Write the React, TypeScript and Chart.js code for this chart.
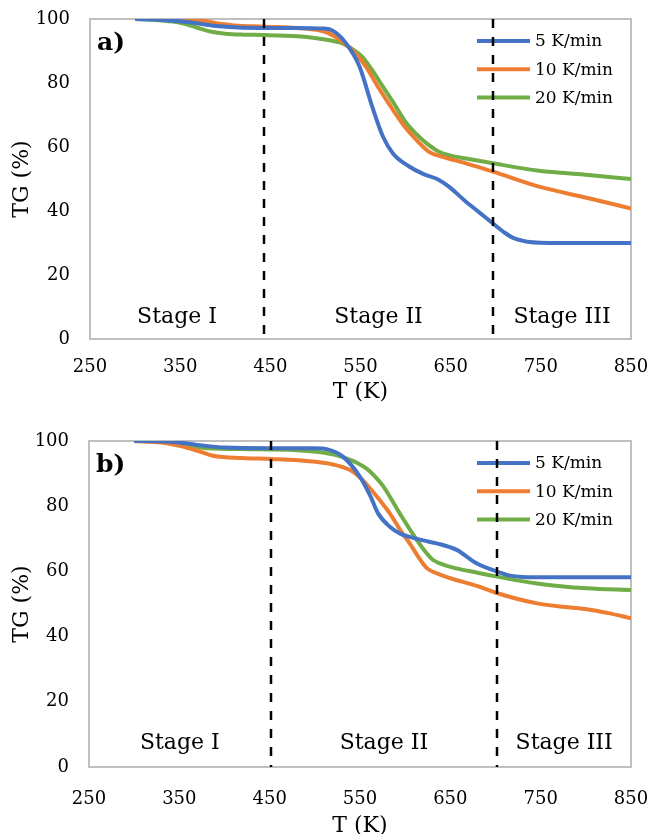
import React, { useEffect, useRef } from 'react';
import { Chart, registerables } from 'chart.js';
Chart.register(...registerables);

const SERIES_LABELS = ['5 K/min', '10 K/min', '20 K/min'];
const SERIES_COLORS = ['#4472C4', '#ED7D31', '#70AD47'];
const X_TICKS = [250, 350, 450, 550, 650, 750, 850];
const Y_TICKS = [0, 20, 40, 60, 80, 100];
const STAGE_NAMES = ['Stage I', 'Stage II', 'Stage III'];

// Panel a)
const aT5 = [300, 330, 360, 390, 420, 470, 510, 520, 534, 549, 563, 575, 586, 604, 620, 635, 648, 667, 682, 697, 710, 720, 735, 750, 800, 850];
const aTG5 = [100, 99.7, 99.0, 97.8, 97.3, 97.2, 97.0, 96.2, 92.4, 85.1, 72.6, 63.2, 58.0, 53.9, 51.5, 50.0, 47.6, 42.9, 39.5, 36.1, 33.2, 31.5, 30.4, 30.1, 30.0, 30.0];
const aT10 = [300, 340, 370, 390, 410, 443, 480, 501, 515, 530, 545, 556, 570, 586, 600, 612, 626, 640, 667, 697, 748, 803, 850];
const aTG10 = [100, 100, 99.7, 98.7, 98.0, 97.6, 97.2, 96.6, 95.5, 92.9, 89.0, 85.1, 78.5, 71.6, 66.0, 62.2, 58.5, 57.0, 54.9, 52.3, 47.6, 44.0, 40.8];
const aT20 = [300, 320, 342, 356, 370, 385, 400, 420, 442, 480, 501, 520, 530, 540, 552, 563, 575, 588, 601, 612, 623, 637, 650, 667, 697, 748, 803, 850];
const aTG20 = [100, 99.8, 99.2, 98.4, 97.2, 96.0, 95.4, 95.1, 95.0, 94.6, 94.0, 93.1, 92.4, 90.8, 88.2, 84.0, 78.8, 73.2, 67.4, 64.0, 61.2, 58.5, 57.3, 56.4, 54.9, 52.6, 51.25, 50.0];
const aStageBounds = [443, 697];

// Panel b)
const bT5 = [300, 340, 370, 400, 450, 500, 513, 531, 550, 561, 570, 583, 595, 605, 620, 635, 657, 679, 702, 716, 730, 760, 850];
const bTG5 = [100, 99.8, 98.8, 98.0, 97.8, 97.8, 97.5, 95.2, 89.0, 83.4, 77.8, 73.7, 71.5, 70.6, 69.5, 68.6, 66.6, 62.5, 59.9, 58.7, 58.3, 58.2, 58.2];
const bT10 = [300, 330, 350, 370, 388, 420, 452, 498, 520, 539, 550, 561, 572, 583, 595, 605, 615, 624, 636, 650, 680, 702, 746, 780, 801, 825, 850];
const bTG10 = [100, 99.5, 98.5, 97.0, 95.4, 94.8, 94.5, 93.7, 92.8, 91.1, 88.8, 85.5, 81.8, 77.8, 72.5, 68.6, 64.3, 61.0, 59.3, 57.9, 55.5, 53.3, 50.2, 49.0, 48.4, 47.2, 45.6];
const bT20 = [300, 330, 350, 380, 428, 480, 502, 520, 535, 546, 557, 567, 576, 594, 613, 624, 631, 640, 650, 680, 702, 746, 801, 850];
const bTG20 = [100, 99.9, 99.5, 97.8, 97.5, 97.2, 96.7, 95.9, 94.7, 93.4, 91.6, 89.0, 86.0, 77.8, 69.6, 65.5, 63.5, 62.3, 61.4, 59.6, 58.4, 56.3, 54.8, 54.3];
const bStageBounds = [451, 702];

const FONT = '"DejaVu Serif", serif';

const decorPlugin = {
  id: 'decor',
  beforeDatasetsDraw(chart: any) {
    const { ctx, chartArea: ca } = chart;
    ctx.save();
    ctx.strokeStyle = '#BFBFBF';
    ctx.lineWidth = 2;
    ctx.strokeRect(ca.left, ca.top, ca.right - ca.left, ca.bottom - ca.top);
    ctx.restore();
  },
  afterDatasetsDraw(chart: any) {
    const o = chart.options.plugins.decor;
    const { ctx, chartArea: ca } = chart;
    const x = chart.scales.x;
    const y = chart.scales.y;
    ctx.save();
    // legend
    ctx.font = '17px ' + FONT;
    ctx.textBaseline = 'middle';
    ctx.textAlign = 'left';
    chart.data.datasets.forEach((ds: any, i: number) => {
      const ly = ca.top + 22 + i * 28.3;
      const lx = ca.right - 154;
      ctx.strokeStyle = ds.borderColor;
      ctx.lineWidth = 4;
      ctx.beginPath();
      ctx.moveTo(lx, ly);
      ctx.lineTo(lx + 53, ly);
      ctx.stroke();
      ctx.fillStyle = '#000';
      ctx.fillText(ds.label, lx + 58, ly + 1);
    });
    // dashed stage boundaries
    ctx.strokeStyle = '#000';
    ctx.lineWidth = 2.5;
    ctx.setLineDash([9, 9]);
    for (const b of o.bounds) {
      const px = Math.round(x.getPixelForValue(b));
      ctx.beginPath();
      ctx.moveTo(px, ca.top);
      ctx.lineTo(px, ca.bottom);
      ctx.stroke();
    }
    ctx.setLineDash([]);
    // stage labels
    const edges = [x.min, ...o.bounds, x.max];
    ctx.font = '22px ' + FONT;
    ctx.fillStyle = '#000';
    ctx.textAlign = 'center';
    ctx.textBaseline = 'alphabetic';
    STAGE_NAMES.forEach((s, i) => {
      ctx.fillText(s, x.getPixelForValue((edges[i] + edges[i + 1]) / 2), y.getPixelForValue(o.stageY));
    });
    // panel tag
    ctx.font = 'bold 25px ' + FONT;
    ctx.textAlign = 'left';
    ctx.textBaseline = 'middle';
    ctx.fillText(o.tag, ca.left + 7, ca.top + 24);
    ctx.restore();
  },
};

type PanelProps = {
  tag: string;
  series: number[][][];
  bounds: number[];
  top: number;
  height: number;
  padTop: number;
  plotBottom: number;
  yAxisWidth: number;
  stageY: number;
  tickPad: number;
  titlePad: number;
};

function Panel(p: PanelProps) {
  const ref = useRef<HTMLCanvasElement | null>(null);
  useEffect(() => {
    if (!ref.current) return;
    const chart = new Chart(ref.current, {
      type: 'line',
      data: {
        datasets: p.series.map(([ts, vs], i) => ({
          label: SERIES_LABELS[i],
          data: ts.map((t, k) => ({ x: t, y: vs[k] })),
          borderColor: SERIES_COLORS[i],
          backgroundColor: SERIES_COLORS[i],
          borderWidth: 4,
          pointRadius: 0,
          cubicInterpolationMode: 'monotone',
          fill: false,
        })),
      },
      options: {
        animation: false,
        responsive: false,
        devicePixelRatio: 1,
        layout: { padding: { top: p.padTop, right: 21, left: 0, bottom: 0 } },
        plugins: {
          legend: { display: false },
          tooltip: { enabled: false },
          decor: { bounds: p.bounds, stageY: p.stageY, tag: p.tag },
        } as any,
        scales: {
          x: {
            type: 'linear',
            min: 250,
            max: 850,
            grid: { display: false, drawTicks: false },
            border: { display: false },
            afterBuildTicks: (s: any) => { s.ticks = X_TICKS.map((v) => ({ value: v })); },
            afterFit: (s: any) => {
              s.height = p.height - p.plotBottom;
              s.paddingLeft = 0; s.paddingRight = 0; s.paddingTop = 0; s.paddingBottom = 0;
            },
            ticks: { padding: p.tickPad, color: '#000', font: { family: FONT, size: 18 }, maxRotation: 0 },
            title: { display: true, text: 'T (K)', color: '#000', font: { family: FONT, size: 22 }, padding: { top: 0, bottom: p.titlePad } },
          },
          y: {
            min: 0,
            max: 100,
            grid: { display: false, drawTicks: false },
            border: { display: false },
            afterBuildTicks: (s: any) => { s.ticks = Y_TICKS.map((v) => ({ value: v })); },
            afterFit: (s: any) => {
              s.width = p.yAxisWidth;
              s.paddingLeft = 0; s.paddingRight = 0; s.paddingTop = 0; s.paddingBottom = 0;
            },
            ticks: { padding: 20, color: '#000', font: { family: FONT, size: 18 } },
            title: { display: true, text: 'TG (%)', color: '#000', font: { family: FONT, size: 22 }, padding: { top: 9, bottom: 0 } },
          },
        },
      },
      plugins: [decorPlugin],
    } as any);
    return () => chart.destroy();
  }, []);
  return (
    <canvas
      ref={ref}
      width={652}
      height={p.height}
      style={{ position: 'absolute', left: 0, top: p.top, width: 652, height: p.height }}
    />
  );
}

export default function App() {
  return (
    <div style={{ position: 'absolute', left: 0, top: 0, width: 652, height: 834, background: '#fff', overflow: 'hidden' }}>
      <Panel
        tag="a)"
        series={[[aT5, aTG5], [aT10, aTG10], [aT20, aTG20]]}
        bounds={aStageBounds}
        top={0}
        height={410}
        padTop={19}
        plotBottom={339}
        yAxisWidth={90}
        stageY={5.0}
        tickPad={18}
        titlePad={5}
      />
      <Panel
        tag="b)"
        series={[[bT5, bTG5], [bT10, bTG10], [bT20, bTG20]]}
        bounds={bStageBounds}
        top={420}
        height={420}
        padTop={21}
        plotBottom={347}
        yAxisWidth={89}
        stageY={5.5}
        tickPad={22}
        titlePad={1}
      />
    </div>
  );
}
